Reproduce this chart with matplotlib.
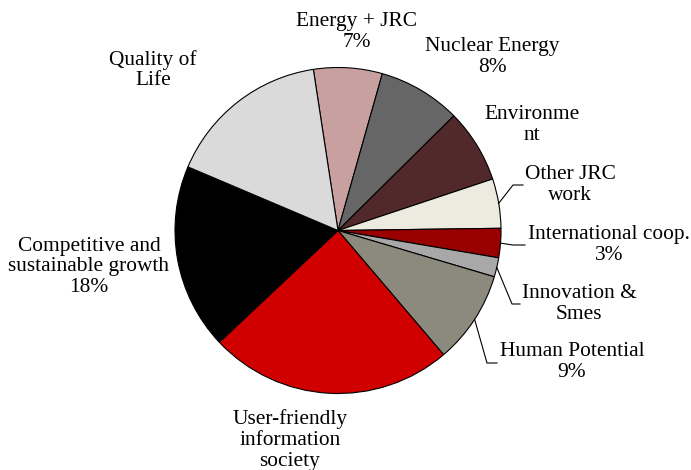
import numpy as np
import matplotlib
matplotlib.use("Agg")
import matplotlib.pyplot as plt

# 各部分的名称与占比
labels = ["Energy + JRC\n7%", "Nuclear Energy\n8%", "Environme\nnt", "Other JRC\nwork",
          "International coop.\n3%", "Innovation &\nSmes", "Human Potential\n9%",
          "User-friendly\ninformation\nsociety", "Competitive and\nsustainable growth\n18%",
          "Quality of\nLife"]
values = [6.8, 8.2, 7.3, 4.9, 2.9, 1.9, 9.2, 24.2, 18.4, 16.2]
colors = ["#C9A0A0", "#666666", "#52292A", "#EDEAE0", "#990000",
          "#A8A8A8", "#8C8A7C", "#D00000", "#000000", "#DADADA"]

W, H = 691, 470
fig = plt.figure(figsize=(W / 100, H / 100), dpi=100)
ax = fig.add_axes([0, 0, 1, 1])

cx, cy, r = 338, H - 230.5, 163
wedges, _ = ax.pie(values, colors=colors, startangle=98.7, counterclock=False,
                   center=(cx, cy), radius=r,
                   wedgeprops=dict(edgecolor="black", linewidth=0.8))
ax.set_xlim(0, W)
ax.set_ylim(0, H)
ax.set_aspect("equal")
ax.axis("off")

# 标签位置（像素，自上而下）
label_pos = [(357, 32), (492, 57), (532, 125), (570, 185), (609, 245),
             (579, 304), (572, 362), (290, 440), (89, 267), (153, 70)]
font = dict(family="Liberation Serif", size=15.4)
for lab, (x, y) in zip(labels, label_pos):
    ax.text(x, H - y, lab, ha="center", va="center", linespacing=1.12, **font)

# 引线：从扇形外缘中点 -> 拐点 -> 水平段
leaders = {3: [(513, 185), (523, 185)],
           4: [(513, 245), (525, 245)],
           5: [(512, 304), (520, 304)],
           6: [(487, 363), (497, 363)]}
for i, pts in leaders.items():
    w = wedges[i]
    ang = np.deg2rad((w.theta1 + w.theta2) / 2)
    xs = [cx + r * np.cos(ang)] + [p[0] for p in pts]
    ys = [cy + r * np.sin(ang)] + [H - p[1] for p in pts]
    ax.plot(xs, ys, color="black", linewidth=0.8)

plt.savefig("out.png", dpi=100)
